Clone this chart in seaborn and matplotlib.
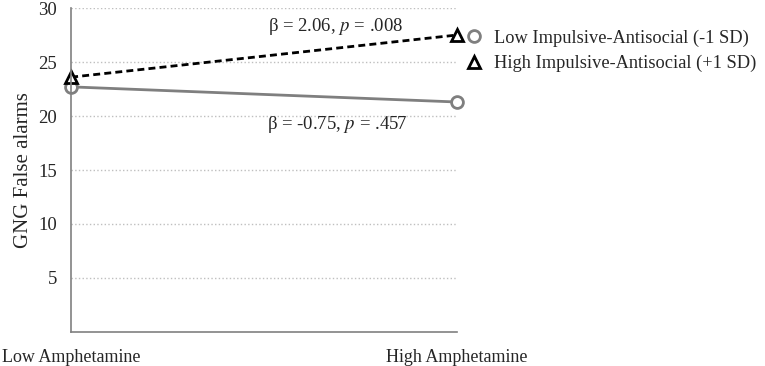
import pandas as pd
import matplotlib
matplotlib.use("Agg")
import matplotlib.pyplot as plt
import seaborn as sns
from matplotlib.lines import Line2D

# values
amph_levels = ["Low Amphetamine", "High Amphetamine"]
groups = ["Low Impulsive-Antisocial (-1 SD)", "High Impulsive-Antisocial (+1 SD)"]
low_ia = [22.7, 21.3]
high_ia = [23.6, 27.5]
y_ticks = [5, 10, 15, 20, 25, 30]

df = pd.DataFrame({
    "x": [0, 1, 0, 1],
    "y": low_ia + high_ia,
    "group": [groups[0]] * 2 + [groups[1]] * 2,
})

sns.set_style("white")
plt.rcParams["font.family"] = ["Liberation Serif", "DejaVu Serif"]
plt.rcParams["mathtext.fontset"] = "stix"

fig = plt.figure(figsize=(7.65, 3.66), dpi=100)
ax = fig.add_axes([0.093, 0.093, 0.504, 0.885])

palette = {groups[0]: "#7f7f7f", groups[1]: "black"}
sns.lineplot(data=df, x="x", y="y", hue="group", style="group",
             palette=palette, dashes={groups[0]: "", groups[1]: (2.5, 1.5)},
             markers={groups[0]: "o", groups[1]: "^"}, markersize=8.5,
             markerfacecolor="white", markeredgewidth=2, linewidth=2,
             legend=False, ax=ax)
for ln, ec in zip(ax.lines, ["#7f7f7f", "black"]):
    ln.set_markeredgecolor(ec)
    ln.set_clip_on(False)

ax.set_xlim(0, 1)
ax.set_ylim(0, 30)
ax.set_yticks(y_ticks)
ax.set_xticks([0, 1])
ax.set_xticklabels(amph_levels)
ax.yaxis.grid(True, linestyle=":", color="#bfbfbf", linewidth=1)
ax.set_axisbelow(True)
for s in ["top", "right"]:
    ax.spines[s].set_visible(False)
for s in ["left", "bottom"]:
    ax.spines[s].set_color("#808080")
    ax.spines[s].set_linewidth(1.2)
ax.tick_params(axis="y", length=0, labelsize=13.5, pad=10)
ax.tick_params(axis="x", length=4, color="#808080", labelsize=13, pad=8, direction="out")
ax.set_xlabel("")
ax.set_ylabel("GNG False alarms", fontsize=15)

ax.text(0.685, 28.3, r"β = 2.06, $\it{p}$ = .008", fontsize=13.5, ha="center", va="center")
ax.text(0.689, 19.2, r"β = -0.75, $\it{p}$ = .457", fontsize=13.5, ha="center", va="center")

handles = [
    Line2D([], [], linestyle="none", marker="o", markersize=8.5, markerfacecolor="white",
           markeredgecolor="#7f7f7f", markeredgewidth=2),
    Line2D([], [], linestyle="none", marker="^", markersize=8.5, markerfacecolor="white",
           markeredgecolor="black", markeredgewidth=2),
]
fig.legend(handles, groups, loc="upper left", bbox_to_anchor=(0.598, 0.94),
           frameon=False, fontsize=13.2, handlelength=1.0, handletextpad=0.6,
           labelspacing=0.45, borderaxespad=0)

fig.savefig("out.png", dpi=100)
